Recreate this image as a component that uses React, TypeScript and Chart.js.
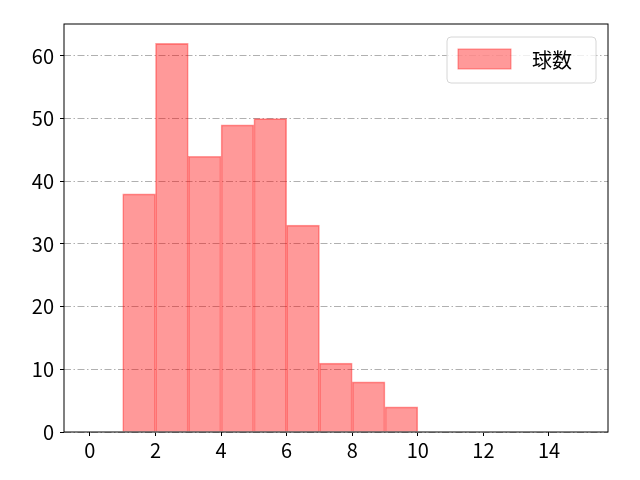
import React, { useEffect, useRef } from 'react';
import { Chart, registerables } from 'chart.js';

Chart.register(...registerables);

// histogram bins (left edges) and counts
const binStarts = [1, 2, 3, 4, 5, 6, 7, 8, 9];
const counts = [38, 62, 44, 49, 50, 33, 11, 8, 4];
const seriesLabel = '球数';
const xTicks = [0, 2, 4, 6, 8, 10, 12, 14];
const yTicks = [0, 10, 20, 30, 40, 50, 60];

const FONT = '"Noto Sans CJK JP", "DejaVu Sans", sans-serif';
const FILL = 'rgba(255, 0, 0, 0.4)';
const EDGE = 'rgba(255, 0, 0, 0.4)';

const framePlugin = {
  id: 'frame',
  afterDraw(chart: any) {
    const { ctx, chartArea: a } = chart;
    ctx.save();
    ctx.strokeStyle = '#000';
    ctx.lineWidth = 1;
    ctx.strokeRect(a.left, a.top, a.right - a.left, a.bottom - a.top);

    // legend, upper right inside the axes
    const w = 149, h = 46;
    const x = a.right - 12 - w, y = a.top + 13;
    ctx.fillStyle = 'rgba(255,255,255,0.8)';
    ctx.strokeStyle = '#d6d6d6';
    ctx.beginPath();
    ctx.roundRect(x, y, w, h, 4);
    ctx.fill();
    ctx.stroke();
    ctx.fillStyle = FILL;
    ctx.strokeStyle = EDGE;
    ctx.fillRect(x + 11, y + 12, 53, 20);
    ctx.strokeRect(x + 11, y + 12, 53, 20);
    ctx.fillStyle = '#000';
    ctx.font = `20px ${FONT}`;
    ctx.textBaseline = 'middle';
    ctx.textAlign = 'left';
    ctx.fillText(chart.data.datasets[0].label, x + 85, y + 23);
    ctx.restore();
  },
};

const App: React.FC = () => {
  const canvasRef = useRef<HTMLCanvasElement>(null);
  const chartRef = useRef<Chart | null>(null);

  useEffect(() => {
    document.body.style.margin = '0';
    if (!canvasRef.current) return;
    const ctx = canvasRef.current.getContext('2d');
    if (!ctx) return;

    chartRef.current = new Chart(ctx, {
      type: 'bar',
      data: {
        datasets: [{
          label: seriesLabel,
          data: binStarts.map((b, i) => ({ x: b + 0.5, y: counts[i] })),
          backgroundColor: FILL,
          borderColor: EDGE,
          borderWidth: 1,
          barPercentage: 1,
          categoryPercentage: 1,
        }],
      },
      options: {
        responsive: false,
        animation: false,
        layout: { padding: { top: 24, right: 32, left: 0, bottom: 0 } },
        plugins: { legend: { display: false }, tooltip: { enabled: false } },
        scales: {
          x: {
            type: 'linear',
            offset: false,
            min: -0.79,
            max: 15.8,
            afterBuildTicks: (s: any) => { s.ticks = xTicks.map(v => ({ value: v })); },
            afterFit: (s: any) => { s.height = 48; },
            ticks: { color: '#000', font: { family: FONT, size: 20 }, padding: 2, maxRotation: 0 },
            grid: { offset: false, drawOnChartArea: false, tickLength: 4, tickColor: '#000' },
            border: { display: false },
          },
          y: {
            min: 0,
            max: 65.1,
            afterBuildTicks: (s: any) => { s.ticks = yTicks.map(v => ({ value: v })); },
            afterFit: (s: any) => { s.width = 64; },
            ticks: { color: '#000', font: { family: FONT, size: 20 }, padding: 6 },
            grid: {
              color: '#b0b0b0',
              lineWidth: 1,
              tickLength: 4,
              tickColor: '#000',
              tickBorderDash: [],
            } as any,
            border: { display: false, dash: [7, 2.5, 1.5, 2.5] },
          },
        },
      },
      plugins: [framePlugin],
    });

    return () => {
      chartRef.current?.destroy();
    };
  }, []);

  return <canvas ref={canvasRef} width={640} height={480} aria-label="球数ヒストグラム"></canvas>;
};

export default App;
